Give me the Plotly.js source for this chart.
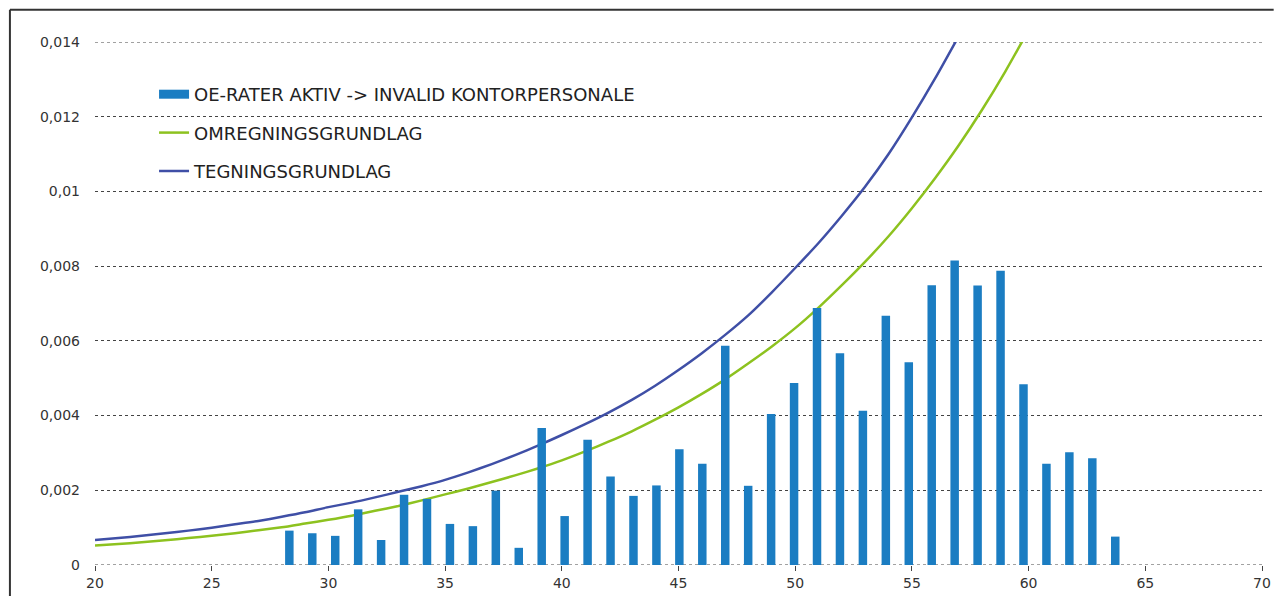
<!DOCTYPE html>
<html>
<head>
<meta charset="utf-8">
<script src="https://cdn.plot.ly/plotly-3.0.1.min.js"></script>
<style>
  html, body { margin: 0; padding: 0; background: #ffffff; }
  #chart { width: 1274px; height: 596px; }
</style>
</head>
<body>
<div id="chart"></div>
<script>
// ---- data ----
const barAges = [28,29,30,31,32,33,34,35,36,37,38,39,40,41,42,43,44,45,46,47,48,49,50,51,52,53,54,55,56,57,58,59,60,61,62,63,64];
const barRates = [0.00092,0.00085,0.00078,0.00149,0.00067,0.00188,0.00177,0.00110,0.00104,0.00199,0.00046,0.00367,0.00131,0.00335,
                  0.00237,0.00185,0.00213,0.00310,0.00271,0.00587,0.00212,0.00404,0.00487,0.00688,0.00567,0.00413,0.00667,0.00543,
                  0.00749,0.00815,0.00748,0.00788,0.00484,0.00271,0.00302,0.00286,0.00076];

const tegnAges = [20,21,22,23,24,25,26,27,28,29,30,31,32,33,34,35,36,37,38,39,40,41,42,43,44,45,46,47,48,49,50,51,52,53,54,55,56,57];
const tegnRates = [0.00067,0.00072,0.00078,0.00085,0.00092,0.00100,0.00109,0.00118,0.00129,0.00141,0.00155,0.00167,0.00181,0.00196,
                   0.00211,0.00228,0.00248,0.00270,0.00294,0.00320,0.00348,0.00377,0.00408,0.00442,0.00480,0.00522,0.00567,0.00616,
                   0.00669,0.00730,0.00795,0.00862,0.00935,0.01013,0.01100,0.01198,0.01303,0.01415];

const omregAges = [20,21,22,23,24,25,26,27,28,29,30,31,32,33,34,35,36,37,38,39,40,41,42,43,44,45,46,47,48,49,50,51,52,53,54,55,56,57,58,59,60];
const omregRates = [0.00052,0.00056,0.00061,0.00066,0.00072,0.00078,0.00085,0.00093,0.00101,0.00111,0.00121,0.00132,0.00145,0.00158,
                    0.00173,0.00189,0.00205,0.00222,0.00240,0.00259,0.00280,0.00304,0.00330,0.00358,0.00389,0.00422,0.00458,0.00497,
                    0.00540,0.00585,0.00634,0.00689,0.00749,0.00812,0.00880,0.00955,0.01036,0.01123,0.01218,0.01321,0.01432];

const xTickVals = [20,25,30,35,40,45,50,55,60,65,70];
const yTickVals = [0,0.002,0.004,0.006,0.008,0.01,0.012,0.014];
const yTickText = ["0","0,002","0,004","0,006","0,008","0,01","0,012","0,014"];
const yMin = 0, yMax = 0.014;

const names = ["OE-RATER AKTIV -> INVALID KONTORPERSONALE","OMREGNINGSGRUNDLAG","TEGNINGSGRUNDLAG"];
const barColor = "#1B7DC2";
const gridCol = "#444444";

// ---- traces ----
const traces = [
  {
    type: "bar", x: barAges, y: barRates, name: names[0], xaxis: "x2", yaxis: "y",
    width: 0.37, marker: { color: barColor }, showlegend: false, legendgroup: "a"
  },
  { // legend entry for the bars (wide swatch like the original)
    type: "scatter", mode: "lines", x: [null], y: [null], name: names[0],
    line: { color: barColor, width: 9 }, legendgroup: "a"
  },
  {
    type: "scatter", mode: "lines", x: omregAges, y: omregRates, name: names[1],
    line: { color: "#8DC21F", width: 2.5, shape: "spline", smoothing: 0.6 }, legendgroup: "b"
  },
  {
    type: "scatter", mode: "lines", x: tegnAges, y: tegnRates, name: names[2],
    line: { color: "#3F4FA6", width: 2.5, shape: "spline", smoothing: 0.6 }, legendgroup: "c"
  }
];

// edge gridlines (0 and 0.014) which Plotly does not draw at the plot border
const edgeLines = [yMin, yMax].map(v => ({
  type: "line", xref: "paper", yref: "y", x0: 0, x1: 1, y0: v, y1: v, layer: "below",
  line: { color: gridCol, width: 1, dash: "dot" }
}));

const layout = {
  width: 1274, height: 596,
  margin: { l: 95, r: 12.3, t: 42.3, b: 31, pad: 0 },
  paper_bgcolor: "#ffffff", plot_bgcolor: "#ffffff",
  font: { family: "DejaVu Sans, Verdana, sans-serif", size: 14, color: "#333333" },
  showlegend: true,
  legend: {
    x: 0.0506, y: 0.935, xanchor: "left", yanchor: "top",
    bgcolor: "rgba(0,0,0,0)", traceorder: "grouped", tracegroupgap: 12,
    font: { family: "DejaVu Sans, Verdana, sans-serif", size: 18, color: "#222222" }
  },
  xaxis: {
    range: [20, 70], tickvals: xTickVals, ticks: "outside", ticklen: 5, tickcolor: "#444",
    showgrid: false, zeroline: false, showline: false, fixedrange: true,
    tickfont: { size: 14, color: "#333" }
  },
  xaxis2: {
    range: [19.529, 70.396], overlaying: "x", visible: false, fixedrange: true
  },
  yaxis: {
    range: [yMin, yMax], tickvals: yTickVals, ticktext: yTickText,
    showgrid: true, gridcolor: gridCol, griddash: "dot", gridwidth: 1,
    zeroline: false, showline: false, ticks: "", ticklabelstandoff: 14, fixedrange: true,
    tickfont: { size: 14, color: "#333" }
  },
  shapes: edgeLines.concat([
    { type: "line", xref: "paper", yref: "paper", x0: -0.0729, x1: 1.01, y0: 1.0618, y1: 1.0618,
      line: { color: "#333", width: 2 } },
    { type: "line", xref: "paper", yref: "paper", x0: -0.0729, x1: -0.0729, y0: -0.1, y1: 1.0618,
      line: { color: "#333", width: 2 } }
  ])
};

Plotly.newPlot("chart", traces, layout, { displayModeBar: false, staticPlot: true });
</script>
</body>
</html>
